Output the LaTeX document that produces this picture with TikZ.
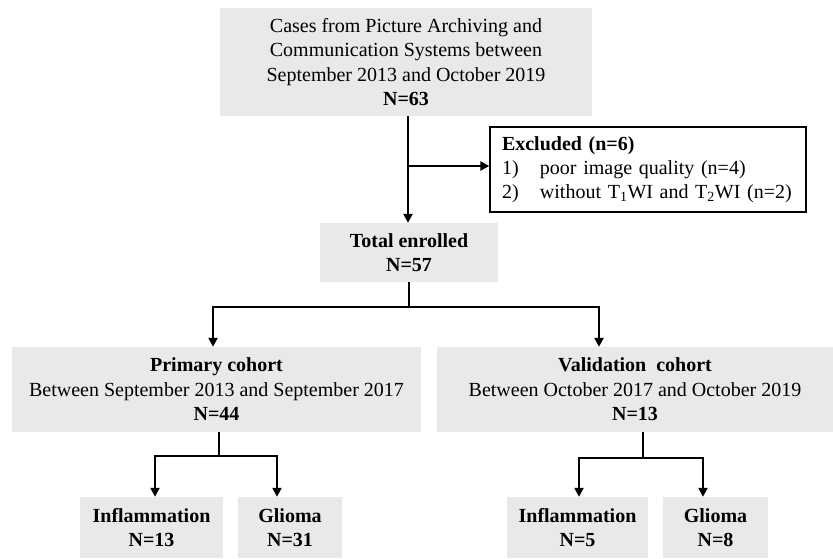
\documentclass[tikz,border=0pt]{standalone}
\usepackage{fontspec}
\setmainfont{Liberation Serif}
\usetikzlibrary{arrows.meta}
\definecolor{boxgray}{RGB}{233,233,233}
\begin{document}
\begin{tikzpicture}[x=1pt,y=-1pt,
  gbox/.style={fill=boxgray, inner sep=0pt, align=center, font=\fontsize{20}{24.5}\selectfont},
  ebox/.style={draw=black, line width=1.3pt, fill=white, inner xsep=12pt, inner ysep=0pt, align=left, font=\fontsize{20}{24}\selectfont},
  conn/.style={line width=2.5pt},
  arr/.style={conn, -{Triangle[length=9pt,width=9pt]}}
]
\useasboundingbox (0,0) rectangle (833,558);

\node[gbox, minimum width=372pt, minimum height=108pt] (top) at (406,62)
  {Cases from Picture Archiving and\\Communication Systems between\\September 2013 and October 2019\\\textbf{N=63}};
\node[ebox, text width=292pt, minimum height=85pt] (exc) at (648,169.5)
  {\textbf{Excluded (n=6)}\\\makebox[38pt][l]{1)}poor image quality (n=4)\\\makebox[38pt][l]{2)}without T\textsubscript{1}WI and T\textsubscript{2}WI (n=2)};
\node[gbox, minimum width=178pt, minimum height=59pt] (tot) at (409,252.5)
  {\textbf{Total enrolled}\\\textbf{N=57}};
\node[gbox, minimum width=409pt, minimum height=85pt] (prim) at (216.5,389.5)
  {\textbf{Primary cohort}\\Between September 2013 and September 2017\\\textbf{N=44}};
\node[gbox, minimum width=396pt, minimum height=85pt] (val) at (635,389.5)
  {\textbf{Validation\ \ cohort}\\Between October 2017 and October 2019\\\textbf{N=13}};
\node[gbox, minimum width=143pt, minimum height=61pt] (infl1) at (151.5,527.5)
  {\textbf{Inflammation}\\\textbf{N=13}};
\node[gbox, minimum width=104pt, minimum height=61pt] (gli1) at (290,527.5)
  {\textbf{Glioma}\\\textbf{N=31}};
\node[gbox, minimum width=141pt, minimum height=61pt] (infl2) at (577.5,527.5)
  {\textbf{Inflammation}\\\textbf{N=5}};
\node[gbox, minimum width=105pt, minimum height=61pt] (gli2) at (715.5,527.5)
  {\textbf{Glioma}\\\textbf{N=8}};

% top to total
\coordinate (t0) at (408,116);
\coordinate (j1) at (408,166);
\draw[arr] (t0) -- (t0 |- tot.north);
\draw[arr] (j1) -- (j1 -| exc.west);

% total to cohorts
\coordinate (b1) at (409,307);
\coordinate (bl) at (213,307);
\coordinate (br) at (599,307);
\draw[conn] (b1 |- tot.south) -- (b1);
\draw[arr] (b1) -- (bl) -- (bl |- prim.north);
\draw[arr] (b1) -- (br) -- (br |- val.north);

% primary split
\coordinate (p1) at (219,456);
\coordinate (pl) at (155,456);
\coordinate (pr) at (277,456);
\draw[conn] (p1 |- prim.south) -- (p1);
\draw[arr] (p1) -- (pl) -- (pl |- infl1.north);
\draw[arr] (p1) -- (pr) -- (pr |- gli1.north);

% validation split
\coordinate (v1) at (643,458);
\coordinate (vl) at (579,458);
\coordinate (vr) at (703,458);
\draw[conn] (v1 |- val.south) -- (v1);
\draw[arr] (v1) -- (vl) -- (vl |- infl2.north);
\draw[arr] (v1) -- (vr) -- (vr |- gli2.north);
\end{tikzpicture}
\end{document}
